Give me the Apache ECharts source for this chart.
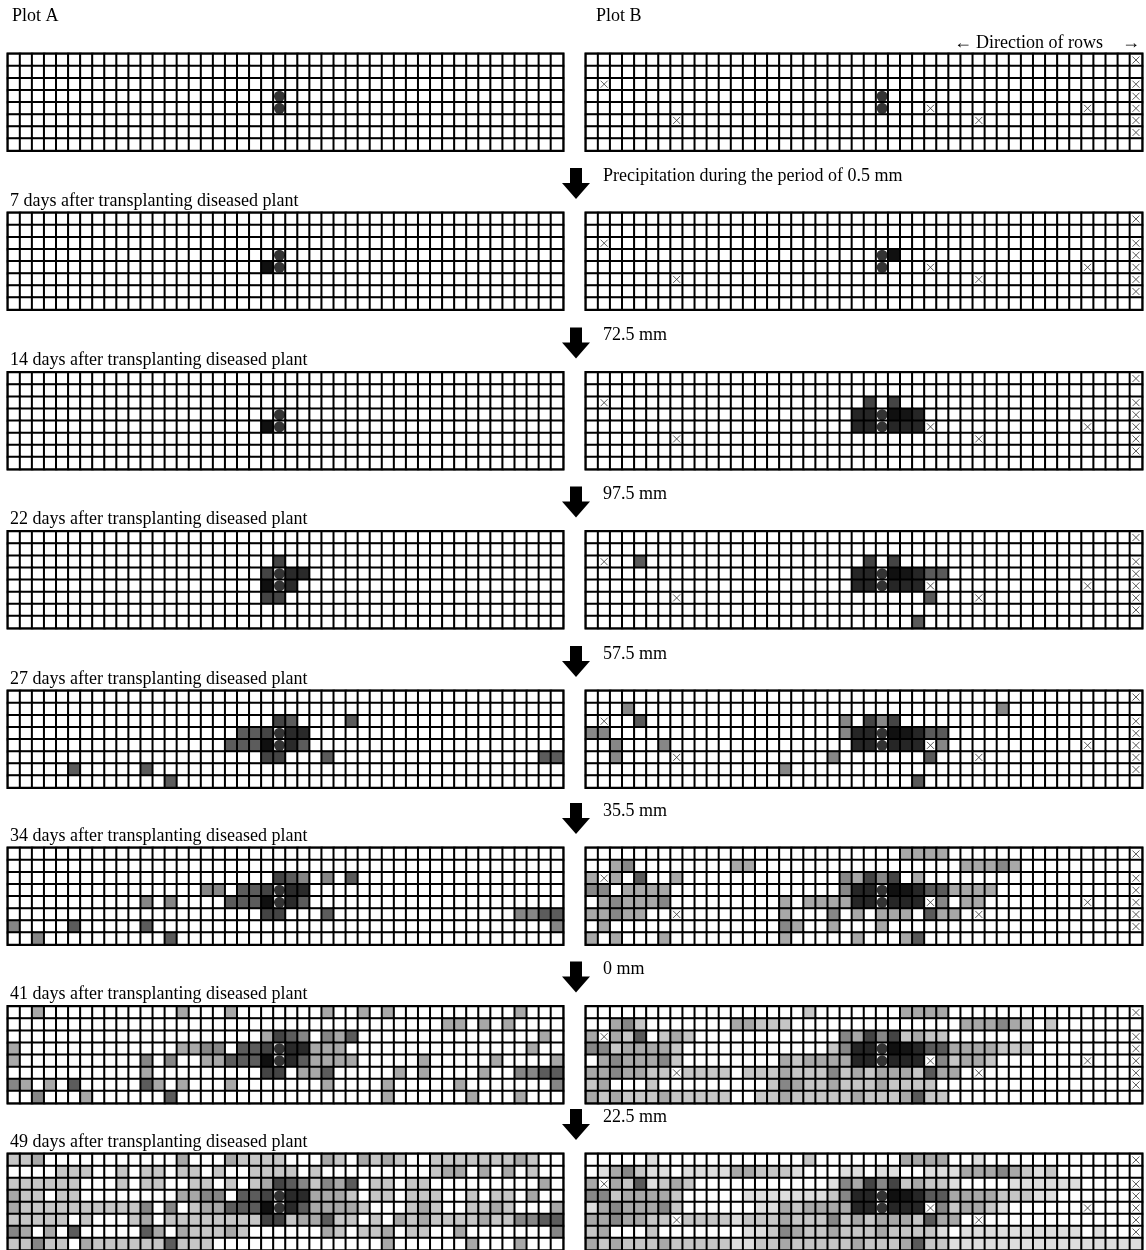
<!DOCTYPE html>
<html><head><meta charset="utf-8">
<script src="https://cdn.jsdelivr.net/npm/echarts@6/dist/echarts.min.js"></script>
<style>html,body{margin:0;padding:0;background:#fff}#c{width:1146px;height:1250px}</style>
</head><body><div id="c"></div>
<script>
// ---------- DATA ----------
const nCols = 46, nRows = 8;
const panelLabels = ["", "7 days after transplanting diseased plant", "14 days after transplanting diseased plant",
  "22 days after transplanting diseased plant", "27 days after transplanting diseased plant",
  "34 days after transplanting diseased plant", "41 days after transplanting diseased plant",
  "49 days after transplanting diseased plant"];
const precipitation = ["", "Precipitation during the period of 0.5 mm", "72.5 mm", "97.5 mm", "57.5 mm", "35.5 mm", "0 mm", "22.5 mm"];
const plotTitles = ["Plot A", "Plot B"];

// onset code per cell (first panel in which the cell is shown as diseased); groups of 10 columns
const onsetA = [
  "776....... ....6...67 777...67.6 767..77777 7767..",
  "....777..7 .77.77.7.. 7777.7.... .....766.6 .6.7..",
  "777777...7 .77..77.7. 763457564. 77.77..... ....6.",
  "677.77.... ....6655.4 43.cc6667. 77.777..7. 77.6..",
  "6777777777 75.5.76644 41.c466667 ...767..77 67...6",
  "77777.7... 76.7777777 733766477. 7.67677776 775544",
  "56.6.4.... .46.677767 ......67.7 76.77..6.. .....5",
  "77577.6777 7774777... .......... .6......6. ..6..."
];
const onsetB = [
  ".....7.... ........6. ......5555 ..7....... ......",
  ".754677.77 77556667.. .77.77..77 755545676. ......",
  "5.5637656. .......... 745e4e6566 7....77777 7.....",
  "44655556.. ...7777777 6422.1k233 555566677. ......",
  "75455546.. ....775655 5522.222.4 65567..... ......",
  "5545566.66 6676665666 4656555635 5......... ......",
  "65...6.... ...7764566 5666566667 .777777777 7.7...",
  "5656665666 6677665666 6656665366 7777777777 777777"
];
// panel index at which each code first appears
const codePanelA = {"1": 1, "c": 3, "3": 3, "4": 4, "5": 5, "6": 6, "7": 7};
const codePanelB = {"1": 1, "k": 2, "2": 2, "e": 2, "3": 3, "4": 4, "5": 5, "6": 6, "7": 7};
// inoculated (transplanted diseased) plants: [column, row]
const diseasedA = [[22, 3], [22, 4]];
const diseasedB = [[24, 3], [24, 4]];
// missing plants in plot B: [column, row]
const missingB = [[45, 0], [1, 2], [45, 2], [45, 3], [28, 4], [41, 4], [45, 4], [7, 5], [32, 5], [45, 5], [45, 6]];

// ---------- STYLE ----------
const codeColorA = {"1": "#101010", "c": "#2a2a2a", "3": "#444444", "4": "#5c5c5c", "5": "#868686", "6": "#a8a8a8", "7": "#c6c6c6"};
const codeColorB = {"1": "#101010", "k": "#151515", "2": "#262626", "e": "#444444", "3": "#5a5a5a", "4": "#878787", "5": "#a8a8a8", "6": "#c6c6c6", "7": "#dedede"};
const panelTop = [54, 213, 372.5, 531.5, 691, 848, 1006.5, 1154];
const gridLeft = [8, 586], gridWidth = [555, 556], gridHeight = 96.6;
const FONT = '"Liberation Serif","Times New Roman",serif';
const FS = '18px ';

const palette = ["#ffffff"];
const paletteIndex = c => { let i = palette.indexOf(c); if (i < 0) { palette.push(c); i = palette.length - 1; } return i; };

const plots = [
  {onset: onsetA, codePanel: codePanelA, color: codeColorA, dots: diseasedA, missing: []},
  {onset: onsetB, codePanel: codePanelB, color: codeColorB, dots: diseasedB, missing: missingB}
];

const grids = [], xAxes = [], yAxes = [], series = [], heatIdx = [], graphics = [];
const colCats = [...Array(nCols).keys()], rowCats = [...Array(nRows).keys()];

for (let p = 0; p < 8; p++) {
  plots.forEach((pl, k) => {
    const g = grids.length;
    grids.push({left: gridLeft[k], top: panelTop[p], width: gridWidth[k], height: gridHeight,
      show: true, borderColor: '#000', borderWidth: 3, backgroundColor: 'transparent'});
    xAxes.push({type: 'category', gridIndex: g, data: colCats, show: false});
    yAxes.push({type: 'category', gridIndex: g, data: rowCats, inverse: true, show: false});
    const cells = [];
    pl.onset.forEach((rowStr, r) => {
      const s = rowStr.replace(/ /g, '');
      for (let c = 0; c < nCols; c++) {
        const ch = s[c];
        let col = '#ffffff';
        if (ch && ch !== '.' && pl.codePanel[ch] <= p) col = pl.color[ch];
        cells.push([c, r, paletteIndex(col)]);
      }
    });
    heatIdx.push(series.length);
    series.push({type: 'heatmap', xAxisIndex: g, yAxisIndex: g, data: cells, silent: true,
      itemStyle: {borderColor: '#000', borderWidth: 2}, emphasis: {disabled: true}, z: 2});
    series.push({type: 'scatter', xAxisIndex: g, yAxisIndex: g, data: pl.dots, symbol: 'circle',
      symbolSize: 11, itemStyle: {color: '#000'}, silent: true, z: 4});
    if (pl.missing.length) series.push({type: 'scatter', xAxisIndex: g, yAxisIndex: g, data: pl.missing,
      symbol: 'path://M0,0L10,10M10,0L0,10', symbolSize: 7,
      itemStyle: {color: 'rgba(0,0,0,0)', borderColor: '#333', borderWidth: 1}, silent: true, z: 4});
  });
  if (p > 0) {
    const T = panelTop[p];
    graphics.push({type: 'text', left: 10, top: T - 21, style: {text: panelLabels[p], font: FS + FONT, fill: '#000'}});
    graphics.push({type: 'text', left: 603, top: T - 46, style: {text: precipitation[p], font: FS + FONT, fill: '#000'}});
    const cx = 576;
    graphics.push({type: 'polygon', shape: {points: [[cx - 6, T - 45], [cx + 6, T - 45], [cx + 6, T - 30], [cx + 14, T - 30],
      [cx, T - 14], [cx - 14, T - 30], [cx - 6, T - 30]]}, style: {fill: '#000'}});
  }
}
graphics.push({type: 'text', left: 12, top: 7, style: {text: plotTitles[0], font: FS + FONT, fill: '#000'}});
graphics.push({type: 'text', left: 596, top: 7, style: {text: plotTitles[1], font: FS + FONT, fill: '#000'}});
graphics.push({type: 'text', left: 954, top: 34, style: {text: '\u2190', font: FS + FONT, fill: '#000'}});
graphics.push({type: 'text', left: 976, top: 34, style: {text: 'Direction of rows', font: FS + FONT, fill: '#000'}});
graphics.push({type: 'text', left: 1122, top: 34, style: {text: '\u2192', font: FS + FONT, fill: '#000'}});

const chart = echarts.init(document.getElementById('c'), null, {renderer: 'canvas'});
chart.setOption({
  animation: false,
  backgroundColor: '#fff',
  grid: grids, xAxis: xAxes, yAxis: yAxes,
  visualMap: {type: 'piecewise', show: false, dimension: 2, seriesIndex: heatIdx,
    pieces: palette.map((c, i) => ({value: i, color: c}))},
  series: series,
  graphic: graphics
});
</script></body></html>
